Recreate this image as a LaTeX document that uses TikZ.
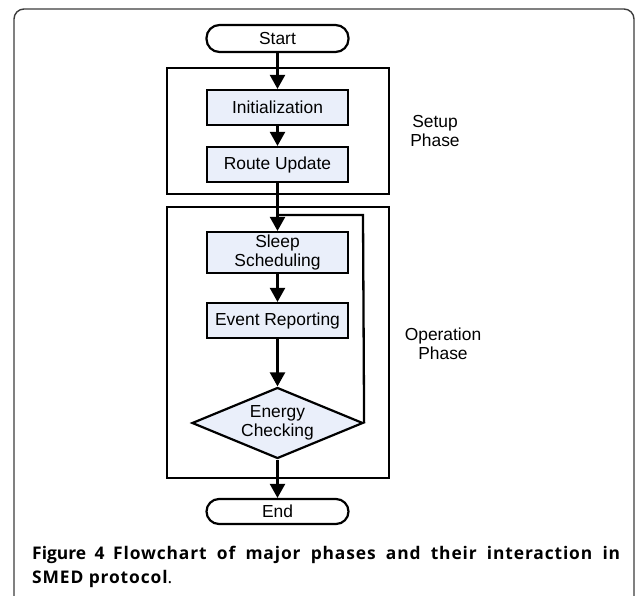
\documentclass[tikz,border=0pt]{standalone}
\usepackage{fontspec}
\setmainfont{Liberation Sans}
\newfontfamily\capfont{Open Sans}
\newfontfamily\capfontwide[LetterSpace=5]{Open Sans}
\usetikzlibrary{shapes.geometric,arrows.meta}
\definecolor{boxfill}{RGB}{234,239,250}
\definecolor{framegray}{RGB}{60,60,60}
\begin{document}
\begin{tikzpicture}[x=1pt,y=-1pt,
  every node/.style={font=\fontsize{17.4}{19}\selectfont, inner sep=0pt, align=center},
  terminal/.style={draw, line width=2.2pt, rounded corners=13pt, minimum width=142pt, minimum height=27pt, fill=white},
  procbox/.style={draw, line width=2.2pt, fill=boxfill, minimum width=141pt},
  phasebox/.style={draw, line width=2.2pt, anchor=north west},
  decision/.style={draw, line width=2.2pt, fill=boxfill, diamond, shape aspect=2.4, inner sep=0pt, minimum width=171pt, minimum height=71pt},
  flow/.style={line width=2.3pt, -{Triangle[width=15pt,length=14pt]}},
  plainline/.style={line width=2.3pt},
  phaselabel/.style={font=\fontsize{17.4}{19}\selectfont},
  captext/.style={font=\capfont\fontsize{17.4}{24}\selectfont, anchor=base west, inner sep=0pt}
]
\useasboundingbox (0,0) rectangle (635,595);
% outer frame
\begin{scope}
\clip (0,0) rectangle (635,595);
\draw[framegray, line width=1.4pt, rounded corners=10pt] (14,9) rectangle (634,640);
\end{scope}
% phase boxes
\node[phasebox, minimum width=222pt, minimum height=126pt] (setup) at (166,67) {};
\node[phasebox, minimum width=222pt, minimum height=271pt] (oper) at (166,206) {};
% flow nodes
\node[terminal] (start) at (277.5,38.5) {Start};
\node[procbox, minimum height=35pt] (init) at (277.5,107.5) {Initialization};
\node[procbox, minimum height=35pt] (route) at (277.5,164.5) {Route Update};
\node[procbox, minimum height=41pt] (sleep) at (277.5,252.5) {Sleep\\Scheduling};
\node[procbox, minimum height=35pt] (event) at (277.5,320.5) {Event Reporting};
\node[decision] (energy) at (277.5,423) {Energy\\Checking};
\node[terminal, minimum height=25pt, rounded corners=12.5pt] (end) at (277.5,511.5) {End};
% phase labels
\node[phaselabel] (setuplbl) at (435,131) {Setup\\Phase};
\node[phaselabel] (operlbl) at (443,344) {Operation\\Phase};
% connectors
\coordinate (loopjoin) at (277.5,215);
\coordinate (loopcorner) at (363,215);
\draw[flow] (start) -- (init);
\draw[flow] (init) -- (route);
\draw[flow] (route) -- (sleep);
\draw[flow] (sleep) -- (event);
\draw[flow] (event) -- (energy);
\draw[flow] (energy) -- (end);
\draw[plainline, line join=miter] (energy.east) -- (loopcorner) -- (loopjoin);
% caption
\node[captext] (cap1) at (32,559) {\makebox[588pt][s]{\bfseries Figure 4 {\capfontwide\bfseries Flowchart of major phases and their interaction in}}};
\node[captext] (cap2) at (32,583) {{\capfontwide\bfseries SMED protocol}.};
\end{tikzpicture}
\end{document}
